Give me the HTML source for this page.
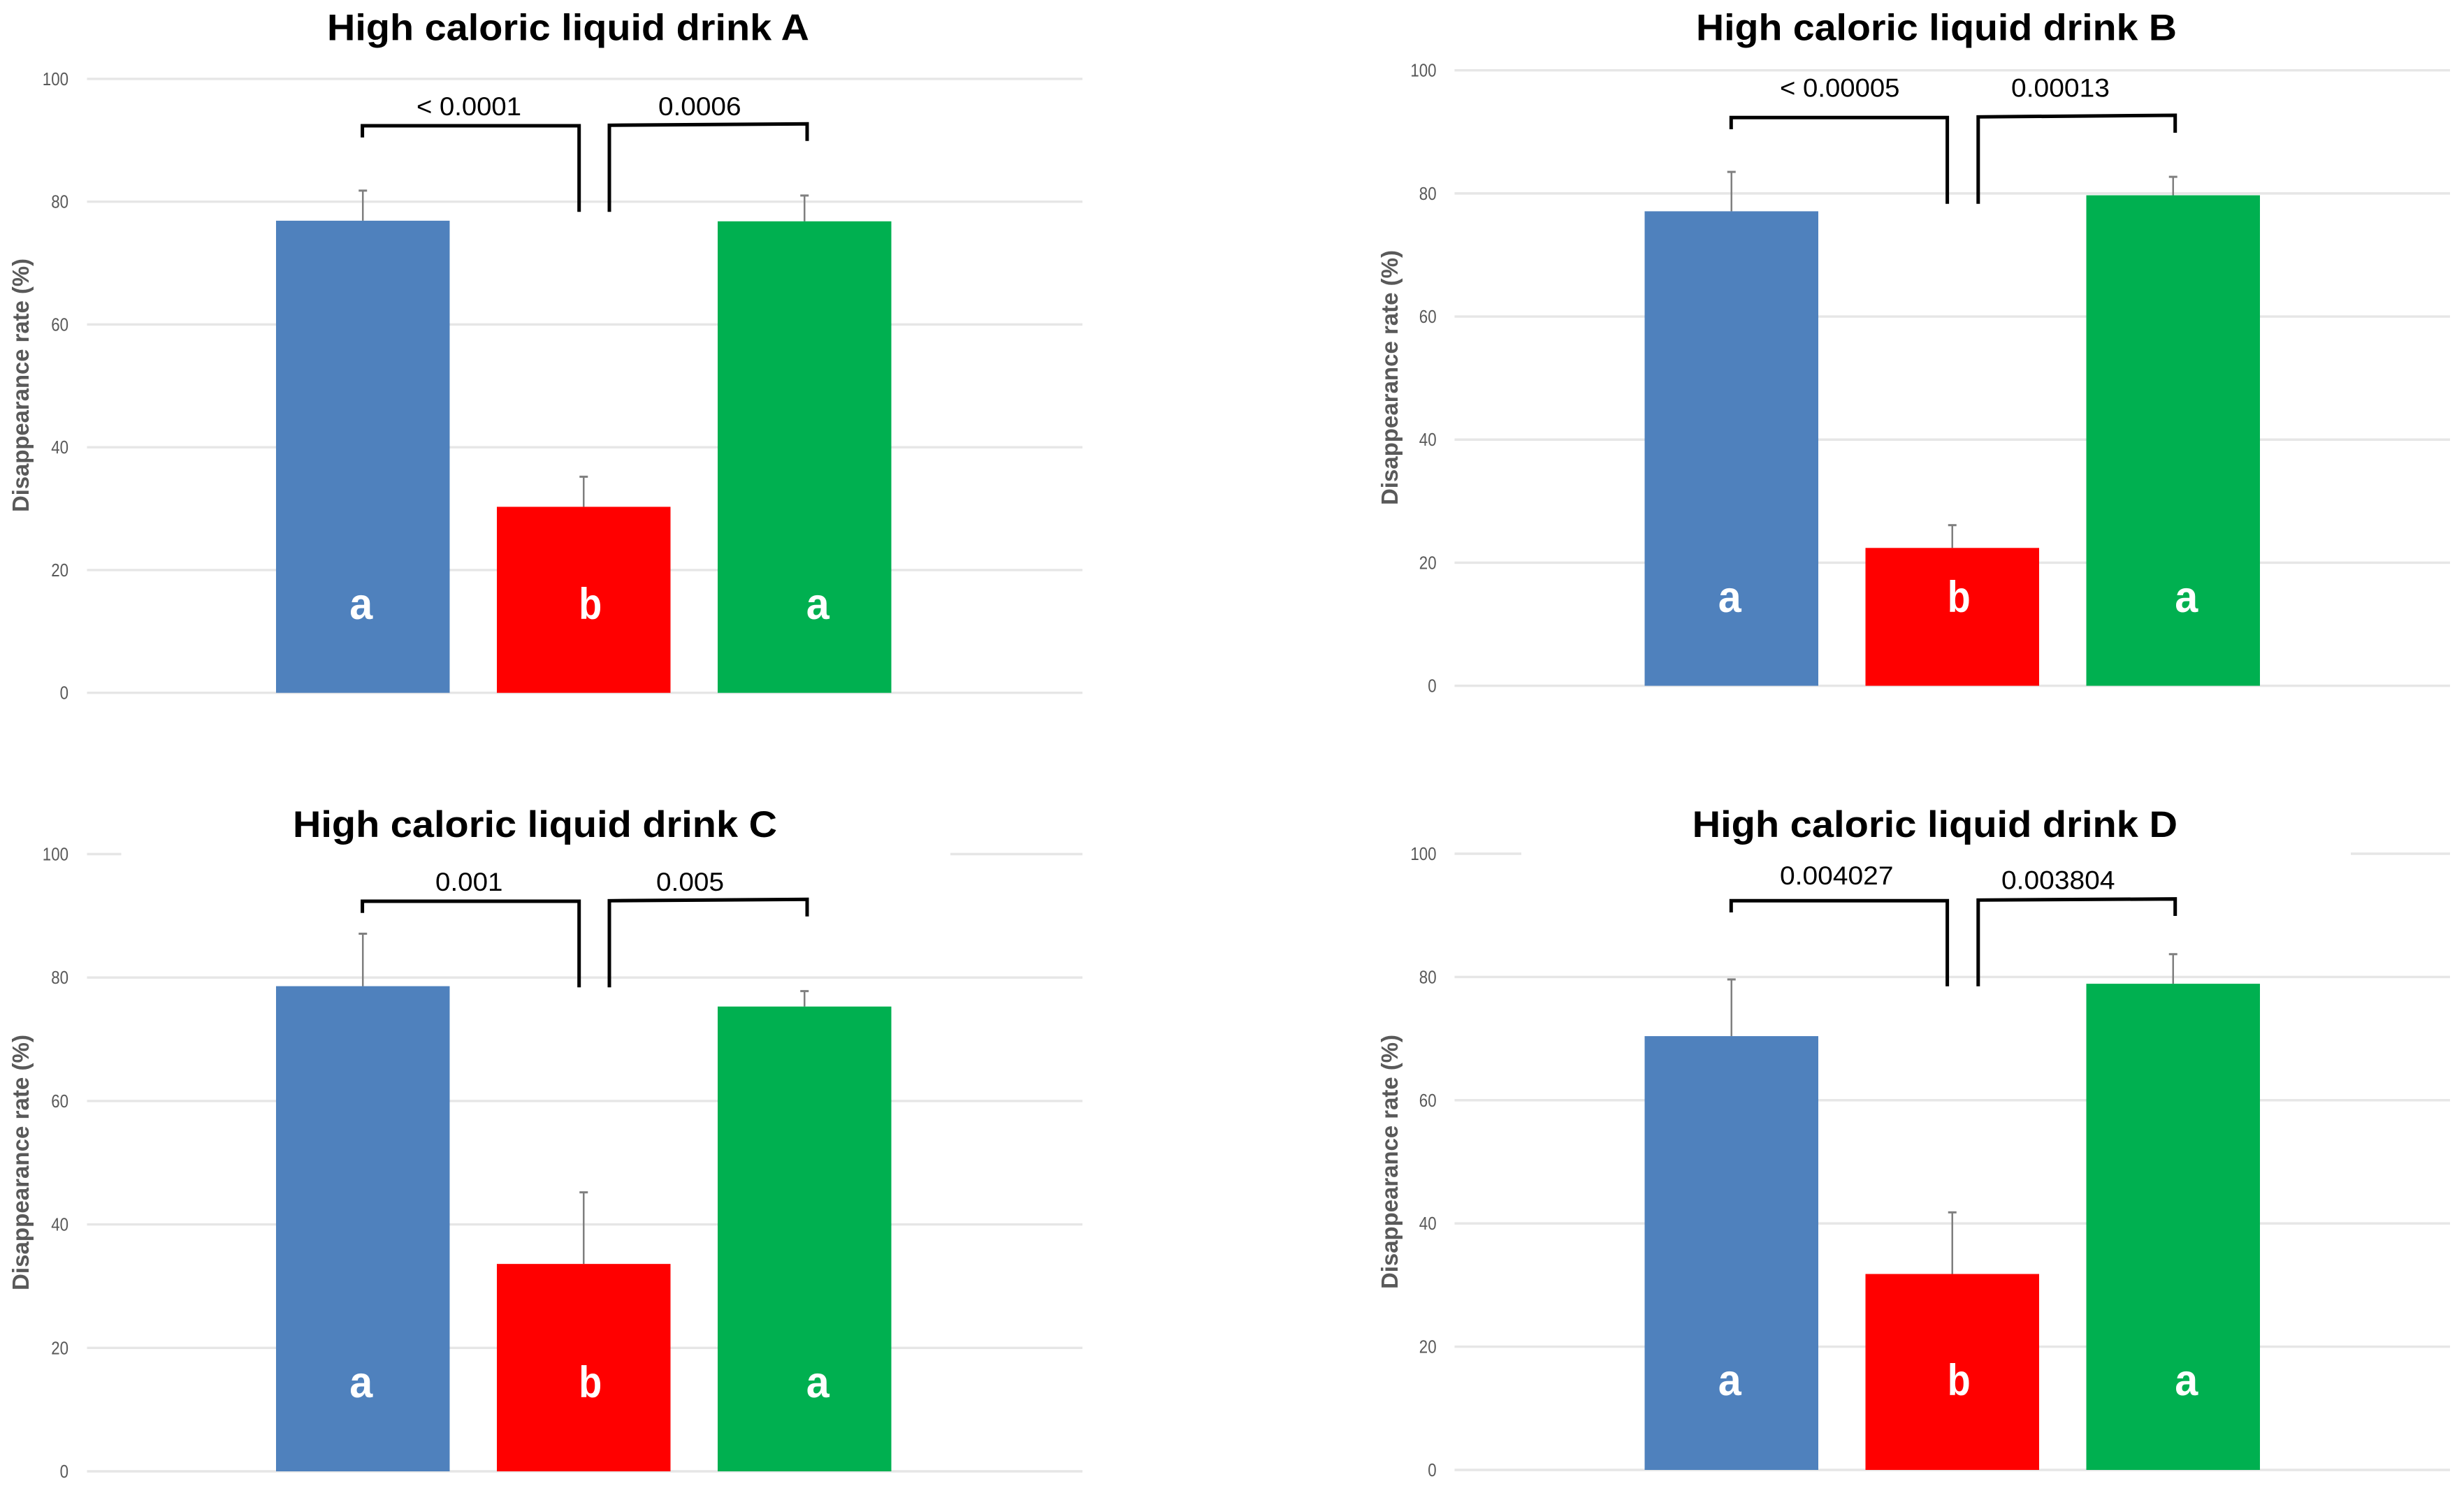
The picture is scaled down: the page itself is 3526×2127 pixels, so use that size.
<!DOCTYPE html>
<html lang="en">
<head>
<meta charset="utf-8">
<title>High caloric liquid drink disappearance rate</title>
<style>
html,body{margin:0;padding:0;background:#fff;width:3526px;height:2127px;overflow:hidden}
svg{display:block}
text{font-family:"Liberation Sans",Arial,sans-serif}
</style>
</head>
<body>
<svg id="figure" xmlns="http://www.w3.org/2000/svg" width="3526" height="2127" viewBox="0 0 3526 2127"></svg>
<script>
// Chart data
const tickLabels = [0, 20, 40, 60, 80, 100];
const barColors = ['#4f81bd', '#ff0000', '#00b050'];
const groupLetters = ['a', 'b', 'a'];

const titleA = 'High caloric liquid drink A';
const valuesA = [76.9, 30.3, 76.8];
const errorsA = [4.9, 4.9, 4.2];
const pLabelsA = ['< 0.0001', '0.0006'];

const titleB = 'High caloric liquid drink B';
const valuesB = [77.1, 22.4, 79.7];
const errorsB = [6.4, 3.7, 3.0];
const pLabelsB = ['< 0.00005', '0.00013'];

const titleC = 'High caloric liquid drink C';
const valuesC = [78.6, 33.6, 75.3];
const errorsC = [8.5, 11.6, 2.5];
const pLabelsC = ['0.001', '0.005'];

const titleD = 'High caloric liquid drink D';
const valuesD = [70.4, 31.8, 78.9];
const errorsD = [9.2, 10.0, 4.8];
const pLabelsD = ['0.004027', '0.003804'];

// Layout only (no data)
const SVGNS = 'http://www.w3.org/2000/svg';
const root = document.getElementById('figure');
const panels = [
  {id:'a', title:titleA, values:valuesA, errors:errorsA, pLabels:pLabelsA,
   y100:112.9, y0:991.7, left:124.5, right:1549, tickX:98, barLeft:395,
   titleBox:[468,1158,57.5], axisY:[370,733], axisX:41,
   letterY:886, pText:[[596,150,165],[942,118.5,165]],
   br:{lx:518.6, lTop:180, lEnd:196.7, mx1:828.7, mEnd:303.3, mx2:872, rTopL:179.3, rTopR:177.3, rx:1155, rEnd:201.7},
   topGaps:null},
  {id:'b', title:titleB, values:valuesB, errors:errorsB, pLabels:pLabelsB,
   y100:100.7, y0:981.6, left:2081.5, right:3506, tickX:2055.6, barLeft:2353.5,
   titleBox:[2427,3115,57.5], axisY:[358,723], axisX:2000,
   letterY:876, pText:[[2547,171.5,138.5],[2878,141,138.5]],
   br:{lx:2477.3, lTop:168.3, lEnd:185, mx1:2786.6, mEnd:291.7, mx2:2830.8, rTopL:167.3, rTopR:165, rx:3112.7, rEnd:190},
   topGaps:null},
  {id:'c', title:titleC, values:valuesC, errors:errorsC, pLabels:pLabelsC,
   y100:1222.5, y0:2106, left:124.5, right:1549, tickX:98, barLeft:395,
   titleBox:[419,1112,1198], axisY:[1481,1847], axisX:41,
   letterY:2000, pText:[[623,96.5,1275],[939,97,1275]],
   br:{lx:518.6, lTop:1290, lEnd:1306.7, mx1:828.7, mEnd:1413.3, mx2:872, rTopL:1289.3, rTopR:1287.3, rx:1155, rEnd:1311.7},
   topGaps:[173.5,1360]},
  {id:'d', title:titleD, values:valuesD, errors:errorsD, pLabels:pLabelsD,
   y100:1222, y0:2104, left:2081.5, right:3506, tickX:2055.6, barLeft:2353.5,
   titleBox:[2421.6,3116,1198], axisY:[1481,1845], axisX:2000,
   letterY:1997, pText:[[2547,162.5,1266],[2864,162.5,1272.7]],
   br:{lx:2477.3, lTop:1289.3, lEnd:1306, mx1:2786.6, mEnd:1411.7, mx2:2830.8, rTopL:1288.3, rTopR:1286.7, rx:3112.7, rEnd:1311},
   topGaps:[2177,3364]}
];
const BAR_W = 248.5;
const BAR_STEP = 316;
const LETTER_OFFSETS = [-2.5, 9.5, 19];

function make(tag, attrs, parent, content) {
  const el = document.createElementNS(SVGNS, tag);
  for (const k in attrs) el.setAttribute(k, attrs[k]);
  if (content !== undefined) el.textContent = content;
  parent.appendChild(el);
  return el;
}
function yScale(p, v) { return p.y0 - (v / 100) * (p.y0 - p.y100); }
function barX(p, i) { return p.barLeft + i * BAR_STEP; }
function barCenter(p, i) { return barX(p, i) + BAR_W / 2; }

panels.forEach(function (p) {
  const g = make('g', {}, root);
  
  

  // gridlines and tick labels
  tickLabels.forEach(function (t) {
    const y = yScale(p, t);
    const segs = (t === 100 && p.topGaps)
      ? [[p.left, p.topGaps[0]], [p.topGaps[1], p.right]]
      : [[p.left, p.right]];
    segs.forEach(function (s) {
      const line = make('line', {x1:s[0], x2:s[1], y1:y, y2:y, stroke:'#e6e6e6', 'stroke-width':3.4}, g);
      
      
    });
    const label = make('text', {x:p.tickX, y:y + 9, 'text-anchor':'end', 'font-size':26, fill:'#595959',
      textLength:String(t).length * 12.4, lengthAdjust:'spacingAndGlyphs'}, g, String(t));
    
    
  });

  // axis title
  const ayc = (p.axisY[0] + p.axisY[1]) / 2;
  const axisTitle = make('text', {x:0, y:0, 'text-anchor':'middle', 'font-size':33, 'font-weight':'bold', fill:'#595959',
    textLength:p.axisY[1] - p.axisY[0], lengthAdjust:'spacingAndGlyphs',
    transform:'translate(' + p.axisX + ',' + ayc + ') rotate(-90)'}, g, 'Disappearance rate (%)');
  
  

  // chart title
  const title = make('text', {x:p.titleBox[0], y:p.titleBox[2], 'font-size':53, 'font-weight':'bold', fill:'#000',
    textLength:p.titleBox[1] - p.titleBox[0], lengthAdjust:'spacingAndGlyphs'}, g, p.title);
  
  

  // error bars
  p.values.forEach(function (v, i) {
    const cx = barCenter(p, i);
    const yTop = yScale(p, v + p.errors[i]);
    const stem = make('line', {x1:cx, x2:cx, y1:yScale(p, v), y2:yTop, stroke:'#7f7f7f', 'stroke-width':2.5}, g);
    
    
    const cap = make('line', {x1:cx - 6, x2:cx + 6, y1:yTop, y2:yTop, stroke:'#7f7f7f', 'stroke-width':3}, g);
    
    
  });

  // bars and group letters
  p.values.forEach(function (v, i) {
    const rect = make('rect', {x:barX(p, i), y:yScale(p, v), width:BAR_W, height:p.y0 - yScale(p, v), fill:barColors[i]}, g);
    
    
    const letter = make('text', {x:barCenter(p, i) + LETTER_OFFSETS[i], y:p.letterY, 'text-anchor':'middle', 'font-size':63, 'font-weight':'bold', fill:'#fff',
      textLength:33, lengthAdjust:'spacingAndGlyphs'}, g, groupLetters[i]);
    
    
  });

  // significance brackets
  const b = p.br;
  const leftBracket = make('polyline', {points:[b.lx,b.lEnd, b.lx,b.lTop, b.mx1,b.lTop, b.mx1,b.mEnd].join(' '), fill:'none', stroke:'#000', 'stroke-width':5}, g);
  
  
  const rightBracket = make('polyline', {points:[b.mx2,b.mEnd, b.mx2,b.rTopL, b.rx,b.rTopR, b.rx,b.rEnd].join(' '), fill:'none', stroke:'#000', 'stroke-width':5}, g);
  
  

  // p-value labels
  p.pLabels.forEach(function (s, i) {
    const t = p.pText[i];
    const pv = make('text', {x:t[0], y:t[2], 'font-size':37, fill:'#000', textLength:t[1], lengthAdjust:'spacingAndGlyphs'}, g, s);
    
    
  });
});
</script>
</body>
</html>
